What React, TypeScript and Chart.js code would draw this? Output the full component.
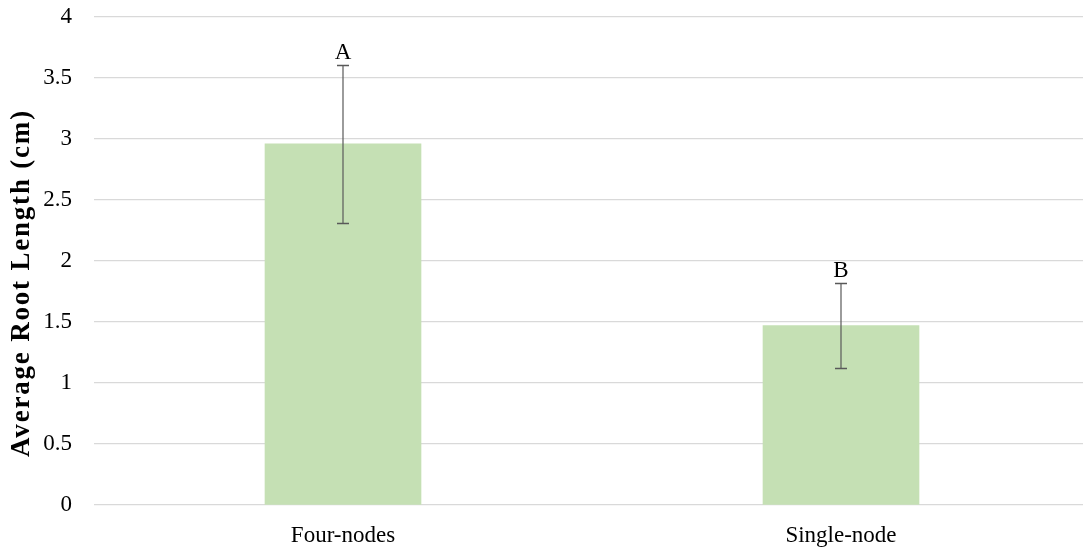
import { useEffect, useRef } from 'react';
import { Chart, registerables } from 'chart.js';

Chart.register(...registerables);

// Root length by cutting type
const categories = ['Four-nodes', 'Single-node'];
const meanLengths = [2.96, 1.47];
const errorMargins = [0.65, 0.35];
const groupLetters = ['A', 'B'];
const yTickValues = [0, 0.5, 1, 1.5, 2, 2.5, 3, 3.5, 4];
const yAxisTitle = 'Average Root Length (cm)';

const FONT = "'Liberation Serif', 'Times New Roman', serif";

// Error bars with significance letters above the caps, plus the rotated axis title
const errorBarPlugin = {
  id: 'errorBars',
  afterDatasetsDraw(chart: any) {
    const ctx = chart.ctx as CanvasRenderingContext2D;
    const meta = chart.getDatasetMeta(0);
    const yScale = chart.scales.y;
    ctx.save();
    meta.data.forEach((bar: any, i: number) => {
      const x = Math.round(bar.x);
      const top = Math.round(yScale.getPixelForValue(meanLengths[i] + errorMargins[i]));
      const bottom = Math.round(yScale.getPixelForValue(meanLengths[i] - errorMargins[i]));
      ctx.strokeStyle = '#595959';
      ctx.lineWidth = 1.2;
      ctx.beginPath();
      ctx.moveTo(x, top);
      ctx.lineTo(x, bottom);
      ctx.stroke();
      ctx.lineWidth = 1.5;
      ctx.beginPath();
      ctx.moveTo(x - 6, top + 0.5);
      ctx.lineTo(x + 6, top + 0.5);
      ctx.moveTo(x - 6, bottom + 0.5);
      ctx.lineTo(x + 6, bottom + 0.5);
      ctx.stroke();
      ctx.fillStyle = '#000';
      ctx.font = `23px ${FONT}`;
      ctx.textAlign = 'center';
      ctx.textBaseline = 'alphabetic';
      ctx.fillText(groupLetters[i], x, top - 6);
    });
    ctx.restore();
  },
  afterDraw(chart: any) {
    const ctx = chart.ctx as CanvasRenderingContext2D;
    const area = chart.chartArea;
    ctx.save();
    ctx.translate(29, (area.top + area.bottom) / 2 + 22);
    ctx.rotate(-Math.PI / 2);
    ctx.fillStyle = '#000';
    ctx.font = `bold 27px ${FONT}`;
    (ctx as any).letterSpacing = '1.8px';
    ctx.textAlign = 'center';
    ctx.textBaseline = 'alphabetic';
    ctx.fillText(yAxisTitle, 0, 0);
    ctx.restore();
  },
};

export default function App() {
  const canvasRef = useRef<HTMLCanvasElement | null>(null);

  useEffect(() => {
    const canvas = canvasRef.current;
    if (!canvas) return;
    const chart = new Chart(canvas, {
      type: 'bar',
      data: {
        labels: categories,
        datasets: [
          {
            data: meanLengths,
            backgroundColor: '#c5e0b4',
            borderWidth: 0,
            barThickness: 156,
          },
        ],
      },
      options: {
        responsive: false,
        animation: false,
        events: [],
        layout: { padding: { left: 0, right: 10, top: 17, bottom: 0 } },
        plugins: {
          legend: { display: false },
          tooltip: { enabled: false },
        },
        scales: {
          x: {
            grid: { display: false, drawTicks: false },
            border: { display: false },
            ticks: { color: '#000', font: { family: FONT, size: 23 }, padding: 17 },
            afterFit(scale: any) {
              scale.height = 45;
            },
          },
          y: {
            min: 0,
            max: 4,
            grid: { color: '#d9d9d9', lineWidth: 1.3, drawTicks: false },
            border: { display: false },
            ticks: {
              color: '#000',
              font: { family: FONT, size: 23 },
              padding: 22,
              callback: (v: any) => String(v),
            },
            afterBuildTicks(scale: any) {
              scale.ticks = yTickValues.map((value) => ({ value }));
            },
            afterFit(scale: any) {
              scale.width = 94;
              scale.paddingTop = 0;
              scale.paddingBottom = 0;
            },
          },
        },
      },
      plugins: [errorBarPlugin],
    });
    return () => chart.destroy();
  }, []);

  return (
    <div
      style={{
        position: 'fixed',
        left: 0,
        top: 0,
        width: 1083,
        height: 550,
        overflow: 'hidden',
        background: '#fff',
      }}
    >
      <canvas ref={canvasRef} width={1100} height={550} style={{ display: 'block' }} />
    </div>
  );
}
